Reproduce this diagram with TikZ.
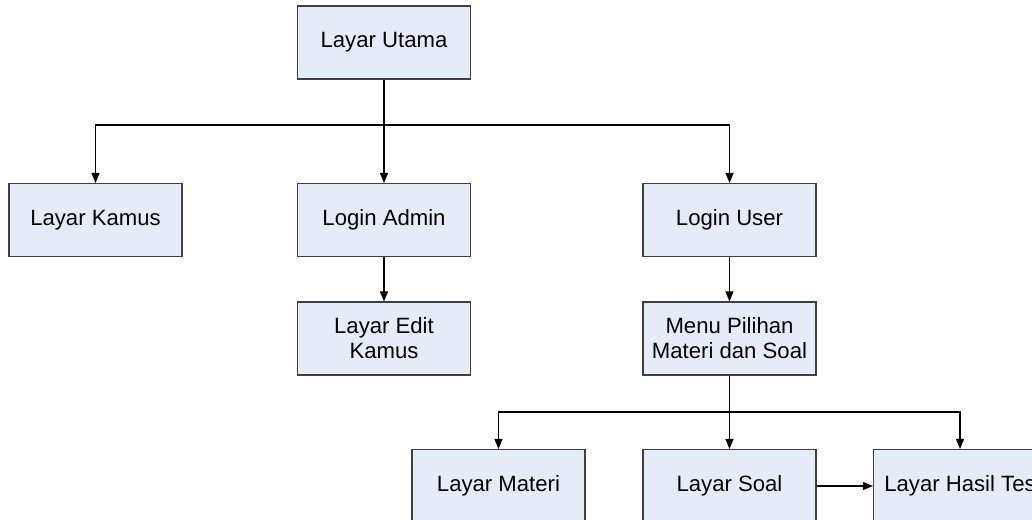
\documentclass[tikz,border=0pt]{standalone}
\usepackage{fontspec}
\setmainfont{Liberation Sans}
\usepackage{tikz}
\usetikzlibrary{arrows.meta}
\definecolor{boxfill}{RGB}{230,236,247}
\definecolor{boxline}{RGB}{64,64,64}
\tikzset{
	layar/.style={draw=boxline, fill=boxfill, line width=0.6pt, minimum width=3.46cm, minimum height=1.46cm, align=center, inner sep=0pt, font=\fontsize{12.6}{14.2}\selectfont},
	panah/.style={-{Triangle[length=0.2cm, width=0.16cm]}, line width=0.6pt}
}
\begin{document}
\begin{tikzpicture}[scale=1]
						\useasboundingbox (0,0) rectangle (20.64,-10.4);
						\pgfmathsetmacro{\ya}{-2.5}
						\pgfmathsetmacro{\yb}{-8.24}
						\node (utama) at (7.68,-0.85) [layar] {Layar Utama};
						\node (kamus) at (1.91,-4.4) [layar] {Layar Kamus};
						\node (admin) at (7.68,-4.4) [layar] {Login Admin};
						\node (user) at (14.59,-4.4) [layar] {Login User};
						\node (edit) at (7.68,-6.77) [layar] {Layar Edit\\Kamus};
						\node (menu) at (14.59,-6.77) [layar] {Menu Pilihan\\Materi dan Soal};
						\node (materi) at (9.97,-9.72) [layar] {Layar Materi};
						\node (soal) at (14.59,-9.72) [layar] {Layar Soal};
						\node (hasil) at (19.2,-9.72) [layar] {Layar Hasil Tes};
						\draw [line width=0.6pt] (utama.south) -- (7.68,\ya);
						\draw [panah] (7.68,\ya) -| (kamus.north);
						\draw [panah] (7.68,\ya) -- (admin.north);
						\draw [panah] (7.68,\ya) -| (user.north);
						\draw [panah] (admin) -- (edit);
						\draw [panah] (user) -- (menu);
						\draw [line width=0.6pt] (menu.south) -- (14.59,\yb);
						\draw [panah] (14.59,\yb) -| (materi.north);
						\draw [panah] (14.59,\yb) -- (soal.north);
						\draw [panah] (14.59,\yb) -| (hasil.north);
						\draw [panah] (soal) -- (hasil);
					\end{tikzpicture}
\end{document}
